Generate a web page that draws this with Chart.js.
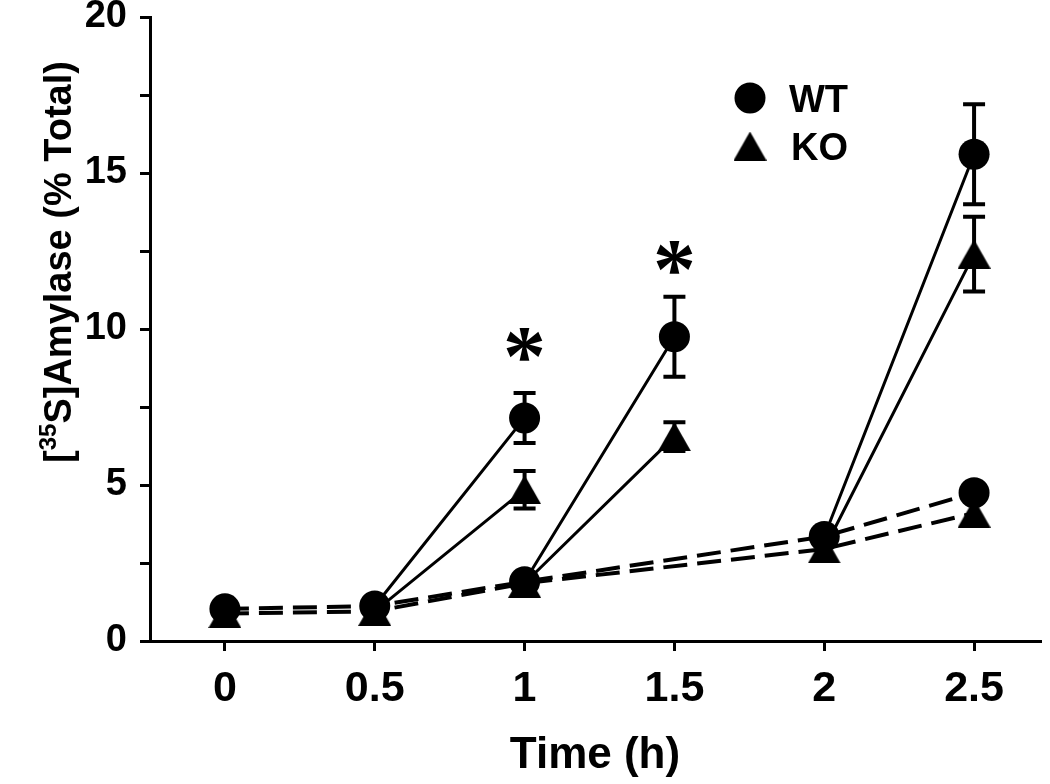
<!DOCTYPE html>
<html><head><meta charset="utf-8">
<script src="https://cdn.jsdelivr.net/npm/chart.js@4.4.1/dist/chart.umd.min.js"></script>
<style>html,body{margin:0;padding:0;background:#fff}#wrap{width:1050px;height:784px;position:relative}</style>
</head><body><div id="wrap"><canvas id="c" width="1050" height="784"></canvas></div>
<script>
// ---- data ----
const seriesNames = ['WT', 'KO'];
const times = [0, 0.5, 1, 2, 2.5];
const wtBasal = [1.03, 1.12, 1.9, 3.35, 4.75];
const koBasal = [0.88, 0.95, 1.85, 2.95, 4.1];
const stimStart = [0.5, 1, 2];
const stimEnd = [1, 1.5, 2.5];
const wtStim = [7.15, 9.75, 15.6];
const wtStimErr = [0.8, 1.28, 1.6];
const koStim = [4.85, 6.55, 12.4];
const koStimErr = [0.6, 0.46, 1.2];
const sigX = [1, 1.5];
const sigY = [9.5, 12.3];
const sigMark = '*';
const xTickValues = [0, 0.5, 1, 1.5, 2, 2.5];
const xTickLabels = ['0', '0.5', '1', '1.5', '2', '2.5'];
const yLabeledTicks = [0, 5, 10, 15, 20];
const xTitle = 'Time (h)';
const yTitleParts = ['[', '35', 'S]Amylase (% Total)'];

const FAM = "'Liberation Sans', Arial, Helvetica, sans-serif";

function makeTri(w, h) {
  const c = document.createElement('canvas');
  c.width = w; c.height = h;
  const g = c.getContext('2d');
  g.fillStyle = '#000';
  g.beginPath(); g.moveTo(w / 2, 0); g.lineTo(w, h); g.lineTo(0, h); g.closePath(); g.fill();
  return c;
}
const triImg = makeTri(33, 29);

function basalAt(arr, t) { return arr[times.indexOf(t)]; }
function stimSegments(basal, stim) {
  const out = [];
  stimStart.forEach((t, i) => {
    if (i > 0) out.push({ x: stimStart[i], y: null });
    out.push({ x: t, y: basalAt(basal, t) });
    out.push({ x: stimEnd[i], y: stim[i] });
  });
  return out;
}
const pts = (arr) => times.map((t, i) => ({ x: t, y: arr[i] }));

const errPlugin = {
  id: 'errbars',
  beforeDatasetsDraw(chart) {
    const { ctx, scales: { x, y } } = chart;
    ctx.save();
    ctx.strokeStyle = '#000'; ctx.lineWidth = 4; ctx.lineCap = 'butt';
    [[wtStim, wtStimErr], [koStim, koStimErr]].forEach(([v, e]) => {
      v.forEach((val, i) => {
        const px = x.getPixelForValue(stimEnd[i]);
        const top = y.getPixelForValue(val + e[i]);
        const bot = y.getPixelForValue(val - e[i]);
        ctx.beginPath(); ctx.moveTo(px, top); ctx.lineTo(px, bot); ctx.stroke();
        ctx.beginPath(); ctx.moveTo(px - 11, top); ctx.lineTo(px + 11, top);
        ctx.moveTo(px - 11, bot); ctx.lineTo(px + 11, bot); ctx.stroke();
      });
    });
    ctx.restore();
  },
  afterDraw(chart) {
    const { ctx, scales: { x, y } } = chart;
    ctx.save();
    ctx.fillStyle = '#000';
    // significance asterisks (glyph scaled to ~36px wide)
    ctx.textBaseline = 'alphabetic'; ctx.textAlign = 'left';
    const afam = "'Liberation Serif', 'Times New Roman', serif";
    ctx.font = 'bold 100px ' + afam;
    let m = ctx.measureText(sigMark);
    const size = 100 * 36 / (m.actualBoundingBoxRight + m.actualBoundingBoxLeft);
    ctx.font = 'bold ' + size + 'px ' + afam;
    m = ctx.measureText(sigMark);
    const gw = m.actualBoundingBoxRight + m.actualBoundingBoxLeft;
    const gh = m.actualBoundingBoxAscent + m.actualBoundingBoxDescent;
    sigX.forEach((sx, i) => {
      const cx = x.getPixelForValue(sx), cy = y.getPixelForValue(sigY[i]);
      ctx.fillText(sigMark, cx - gw / 2 + m.actualBoundingBoxLeft, cy + gh / 2 - m.actualBoundingBoxDescent);
    });
    // legend
    ctx.beginPath(); ctx.arc(750, 98, 15.5, 0, Math.PI * 2); ctx.fill();
    ctx.drawImage(triImg, 750 - triImg.width / 2, 146 - triImg.height / 2);
    ctx.font = 'bold 38px ' + FAM;
    ctx.fillText(seriesNames[0], 789, 112);
    ctx.fillText(seriesNames[1], 791, 160);
    // y title with superscript
    ctx.translate(57, 262);
    ctx.rotate(-Math.PI / 2);
    const big = 'bold 38px ' + FAM, small = 'bold 24px ' + FAM;
    ctx.font = big; const w1 = ctx.measureText(yTitleParts[0]).width;
    const w3 = ctx.measureText(yTitleParts[2]).width;
    ctx.font = small; const w2 = ctx.measureText(yTitleParts[1]).width;
    let u = -(w1 + w2 + w3) / 2; const base = 14;
    ctx.font = big; ctx.fillText(yTitleParts[0], u, base); u += w1;
    ctx.font = small; ctx.fillText(yTitleParts[1], u, base - 15); u += w2;
    ctx.font = big; ctx.fillText(yTitleParts[2], u, base);
    ctx.restore();
  }
};

const axisCommon = {
  grid: { drawOnChartArea: false, drawTicks: true, tickLength: 10, color: '#000', lineWidth: 3 },
  border: { display: true, color: '#000', width: 3 }
};

new Chart(document.getElementById('c'), {
  type: 'scatter',
  data: {
    datasets: [
      { label: seriesNames[0], data: stimSegments(wtBasal, wtStim), showLine: true, spanGaps: false,
        borderColor: '#000', borderWidth: 3, backgroundColor: '#000', pointStyle: 'circle',
        pointRadius: (c) => (c.dataIndex % 3 === 1 ? 15.5 : 0), pointBorderWidth: 0 },
      { label: seriesNames[0] + ' basal', data: pts(wtBasal), showLine: true,
        borderColor: '#000', borderWidth: 4, borderDash: [24, 10], backgroundColor: '#000',
        pointStyle: 'circle', pointRadius: 15.5, pointBorderWidth: 0 },
      { label: seriesNames[1], data: stimSegments(koBasal, koStim), showLine: true, spanGaps: false,
        borderColor: '#000', borderWidth: 3, backgroundColor: '#000', pointStyle: triImg,
        pointRadius: (c) => (c.dataIndex % 3 === 1 ? 16 : 0), pointBorderWidth: 0 },
      { label: seriesNames[1] + ' basal', data: pts(koBasal), showLine: true,
        borderColor: '#000', borderWidth: 4, borderDash: [24, 10], backgroundColor: '#000',
        pointStyle: triImg, pointRadius: 16, pointBorderWidth: 0 }
    ]
  },
  options: {
    responsive: false, animation: false, devicePixelRatio: 1,
    layout: { autoPadding: false, padding: { top: 17, right: 10, left: 0, bottom: 0 } },
    plugins: { legend: { display: false }, tooltip: { enabled: false } },
    scales: {
      x: Object.assign({}, axisCommon, {
        type: 'linear', min: -0.25, max: 2.72,
        afterFit(s) { s.height = 143; s.paddingLeft = 0; s.paddingRight = 0; },
        afterBuildTicks(s) { s.ticks = xTickValues.map(v => ({ value: v })); },
        ticks: { autoSkip: false, maxRotation: 0, padding: 12, color: '#000',
          font: { family: FAM, size: 43, weight: 'bold' },
          callback: (v, i) => xTickLabels[i] },
        title: { display: true, text: xTitle, color: '#000', padding: { top: 0, bottom: 2 },
          font: { family: FAM, size: 44, weight: 'bold' } }
      }),
      y: Object.assign({}, axisCommon, {
        min: 0, max: 20,
        afterFit(s) { s.width = 150; s.paddingTop = 0; s.paddingBottom = 0; },
        ticks: { stepSize: 2.5, autoSkip: false, padding: 13, color: '#000',
          font: { family: FAM, size: 38, weight: 'bold' },
          callback: (v) => (yLabeledTicks.includes(v) ? String(v) : '') }
      })
    }
  },
  plugins: [errPlugin]
});
</script></body></html>
